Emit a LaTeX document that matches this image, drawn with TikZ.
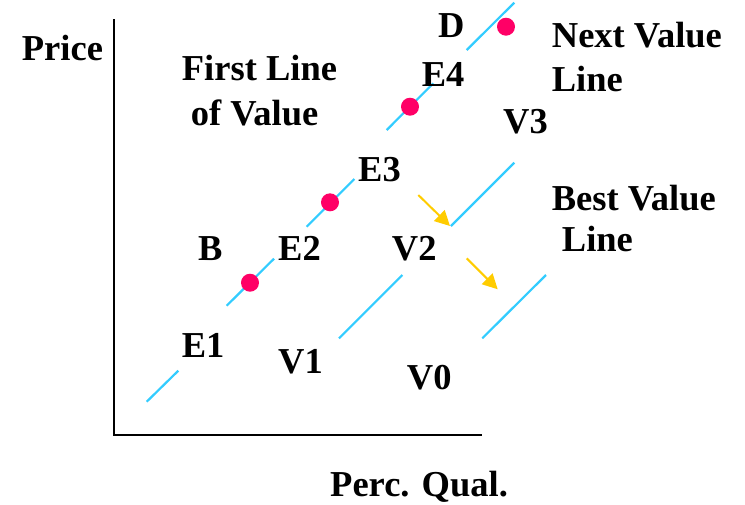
\documentclass[tikz,border=0pt]{standalone}
\usepackage{fontspec}
\setmainfont{Liberation Serif}
\usetikzlibrary{arrows.meta}
\definecolor{vblue}{HTML}{33CCFF}
\definecolor{vred}{HTML}{FF0066}
\definecolor{vyellow}{HTML}{FFCC00}
\tikzset{
  lbl/.style={anchor=base west, inner sep=0pt, font=\fontsize{36.5}{40}\selectfont\bfseries},
  vline/.style={draw=vblue, line width=2.2pt},
  axis/.style={draw=black, line width=2pt},
  dot/.style={circle, fill=vred, minimum size=18pt, inner sep=0pt},
  shift arrow/.style={draw=vyellow, line width=2pt, -{Triangle[length=15pt,width=15pt]}}
}
\begin{document}
\begin{tikzpicture}[x=1pt,y=-1pt]
\useasboundingbox (0,0) rectangle (745,504);
% axes
\coordinate (ytop) at (114,19);
\coordinate (origin) at (114,435);
\coordinate (xend) at (482,435);
\draw[axis] (ytop) -- (origin) -- (xend);
% first line of value (segments)
\coordinate (a1) at (146.7,401.7); \coordinate (a2) at (178.3,370.7);
\coordinate (b1) at (226.7,305.7); \coordinate (b2) at (274,258.7);
\coordinate (c1) at (306.7,226.7); \coordinate (c2) at (354.3,179);
\coordinate (d1) at (386.7,130); \coordinate (d2) at (433.3,83.3);
\coordinate (e1) at (466.7,50); \coordinate (e2) at (514.3,2.7);
\draw[vline] (a1) -- (a2);
\draw[vline] (b1) -- (b2);
\draw[vline] (c1) -- (c2);
\draw[vline] (d1) -- (d2);
\draw[vline] (e1) -- (e2);
% next value line
\coordinate (f1) at (339,338.3); \coordinate (f2) at (402.3,275);
\coordinate (g1) at (451,226); \coordinate (g2) at (514.3,162.7);
\draw[vline] (f1) -- (f2);
\draw[vline] (g1) -- (g2);
% best value line
\coordinate (h1) at (482.3,338.3); \coordinate (h2) at (546,275);
\draw[vline] (h1) -- (h2);
% dots
\node[dot] (dotE1) at (250,282.7) {};
\node[dot] (dotE2) at (330,202.3) {};
\node[dot] (dotE4) at (410,106.7) {};
\node[dot] (dotD) at (506,26.7) {};
% arrows
\coordinate (p1) at (418.3,195); \coordinate (p2) at (450,226);
\coordinate (q1) at (466.7,258.3); \coordinate (q2) at (497.7,289.3);
\draw[shift arrow] (p1) -- (p2);
\draw[shift arrow] (q1) -- (q2);
% labels
\node[lbl] (price) at (21.7,60) {Price};
\node[lbl] (first) at (181.7,80) {First Line};
\node[lbl] (ofvalue) at (190.7,125) {of Value};
\node[lbl] (D) at (438,37) {D};
\node[lbl] (E4) at (421.7,86) {E4};
\node[lbl] (V3) at (503,133) {V3};
\node[lbl] (E3) at (358,181.7) {E3};
\node[lbl] (B) at (198,260) {B};
\node[lbl] (E2) at (278,260) {E2};
\node[lbl] (V2) at (391.7,260) {V2};
\node[lbl] (E1) at (181.7,357) {E1};
\node[lbl] (V1) at (278,373) {V1};
\node[lbl] (V0) at (406.7,389) {V0};
\node[lbl] (next) at (551.7,47) {Next Value};
\node[lbl] (nextline) at (551.7,91.7) {Line};
\node[lbl] (best) at (551.7,210) {Best Value};
\node[lbl] (bestline) at (561.7,251.7) {Line};
\node[lbl] (xlabel) at (330,496) {Perc. Qual.};
\end{tikzpicture}
\end{document}
